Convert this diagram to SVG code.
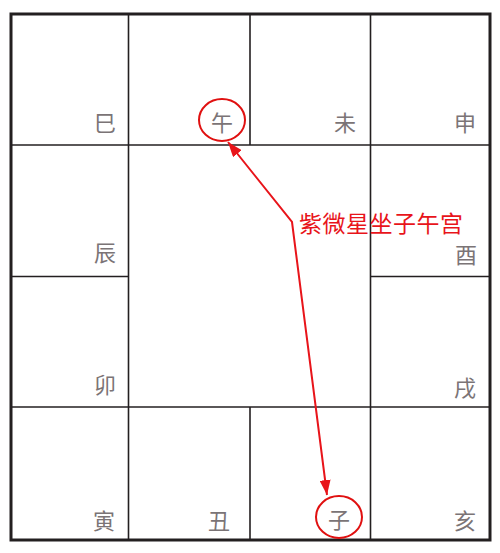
<svg xmlns="http://www.w3.org/2000/svg" width="500" height="553" viewBox="0 0 500 553">
<style>
.ln{stroke:#231f20;stroke-width:1.6;fill:none}
.lb{font-family:"Noto Sans CJK SC","Noto Sans CJK JP",sans-serif;font-size:22px;fill:#7b7476;text-anchor:middle;dominant-baseline:central}
.rc{fill:none;stroke:#e01010;stroke-width:2}
.ann{font-family:"Noto Sans CJK SC",sans-serif;font-size:23px;fill:#e8141a}
</style>
<defs>
<marker id="ah" viewBox="0 0 15 11" refX="15" refY="5.5" markerWidth="15" markerHeight="11" markerUnits="userSpaceOnUse" orient="auto-start-reverse">
<path d="M0,0 L15,5.5 L0,11 z" fill="#e8141a"/>
</marker>
</defs>
<rect width="500" height="553" fill="#fff"/>
<g id="grid">
<rect x="11" y="14" width="479" height="526" fill="none" stroke="#231f20" stroke-width="3"/>
<line class="ln" x1="128.5" y1="14" x2="128.5" y2="540"/>
<line class="ln" x1="370.5" y1="14" x2="370.5" y2="540"/>
<line class="ln" x1="250" y1="14" x2="250" y2="145"/>
<line class="ln" x1="250" y1="407" x2="250" y2="540"/>
<line class="ln" x1="11" y1="145" x2="490" y2="145"/>
<line class="ln" x1="11" y1="407" x2="490" y2="407"/>
<line class="ln" x1="11" y1="276.5" x2="128.5" y2="276.5"/>
<line class="ln" x1="370.5" y1="276.5" x2="490" y2="276.5"/>
</g>
<g id="si"><text class="lb" x="105" y="121">巳</text></g>
<g id="wu"><text class="lb" x="222" y="121">午</text><ellipse class="rc" cx="222" cy="120" rx="23" ry="21"/></g>
<g id="wei"><text class="lb" x="345" y="121">未</text></g>
<g id="shen"><text class="lb" x="465" y="121">申</text></g>
<g id="chen"><text class="lb" x="105" y="251">辰</text></g>
<g id="you"><text class="lb" x="466" y="253">酉</text></g>
<g id="mao"><text class="lb" x="105" y="383">卯</text></g>
<g id="xu"><text class="lb" x="465" y="386">戌</text></g>
<g id="yin"><text class="lb" x="104" y="519">寅</text></g>
<g id="chou"><text class="lb" x="219" y="519">丑</text></g>
<g id="zi"><text class="lb" x="339" y="518">子</text><ellipse class="rc" cx="339" cy="517" rx="23" ry="21"/></g>
<g id="hai"><text class="lb" x="465" y="519">亥</text></g>
<g id="connectors">
<polyline points="228,142 292,222 327,495" fill="none" stroke="#e8141a" stroke-width="2" marker-start="url(#ah)" marker-end="url(#ah)"/>
</g>
<g id="note"><text class="ann" x="299" y="222" dominant-baseline="central" textLength="164">紫微星坐子午宫</text></g>
</svg>
